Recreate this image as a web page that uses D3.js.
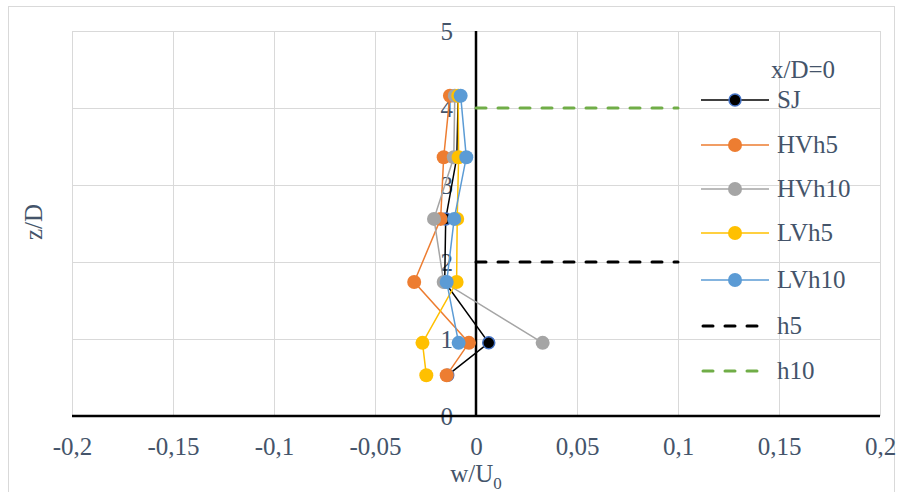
<!DOCTYPE html>
<html>
<head>
<meta charset="utf-8">
<script src="https://cdn.jsdelivr.net/npm/d3@7"></script>
<style>
  body { margin: 0; background: #fff; }
  text { font-family: "Liberation Serif", "Times New Roman", serif; fill: #44546A; }
  .grid line { stroke: #D9D9D9; stroke-width: 1; }
  .tick-label { font-size: 25px; }
</style>
</head>
<body>
<div id="wrapper"></div>
<script>
// values
const xTicks = [-0.2, -0.15, -0.1, -0.05, 0, 0.05, 0.1, 0.15, 0.2];
const yTicks = [0, 1, 2, 3, 4, 5];

const sjZ = [0.53, 0.95, 1.74, 2.56, 3.36, 4.16];
const sjW = [-0.014, 0.0063, -0.0155, -0.015, -0.0095, -0.0088];

const hvh5Z = [0.53, 0.95, 1.74, 2.56, 3.36, 4.16];
const hvh5W = [-0.0145, -0.0035, -0.0306, -0.0175, -0.016, -0.0129];

const hvh10Z = [0.95, 1.74, 2.56, 3.36, 4.16];
const hvh10W = [0.033, -0.016, -0.0208, -0.011, -0.0105];

const lvh5Z = [0.53, 0.95, 1.74, 2.56, 3.36, 4.16];
const lvh5W = [-0.0246, -0.0265, -0.0096, -0.0093, -0.0086, -0.0088];

const lvh10Z = [0.95, 1.74, 2.56, 3.36, 4.16];
const lvh10W = [-0.0086, -0.0145, -0.0108, -0.0048, -0.0076];

const h5Line = { w: [0, 0.1], z: [2, 2] };
const h10Line = { w: [0, 0.1], z: [4, 4] };

const seriesNames = ["SJ", "HVh5", "HVh10", "LVh5", "LVh10"];
const seriesColors = ["#000000", "#ED7D31", "#A5A5A5", "#FFC000", "#5B9BD5"];

function drawChart() {
  const series = [
    { z: sjZ, w: sjW },
    { z: hvh5Z, w: hvh5W },
    { z: hvh10Z, w: hvh10W },
    { z: lvh5Z, w: lvh5W },
    { z: lvh10Z, w: lvh10W },
  ].map((s, i) => ({
    name: seriesNames[i],
    color: seriesColors[i],
    points: s.z.map((z, j) => ({ z, w: s.w[j] })),
  }));

  const dimensions = {
    width: 902,
    height: 492,
    margin: { top: 31, right: 22, bottom: 76, left: 72 },
  };
  dimensions.boundedWidth = dimensions.width - dimensions.margin.left - dimensions.margin.right;
  dimensions.boundedHeight = dimensions.height - dimensions.margin.top - dimensions.margin.bottom;

  const wrapper = d3.select("#wrapper")
    .append("svg")
      .attr("width", dimensions.width)
      .attr("height", dimensions.height);

  // outer chart border
  wrapper.append("rect")
      .attr("x", 8.5)
      .attr("y", 6.5)
      .attr("width", 886)
      .attr("height", 490)
      .attr("fill", "none")
      .attr("stroke", "#D9D9D9");

  const bounds = wrapper.append("g")
      .attr("transform", `translate(${dimensions.margin.left}, ${dimensions.margin.top})`);

  const xScale = d3.scaleLinear()
    .domain([-0.2, 0.2])
    .range([0, dimensions.boundedWidth]);

  const yScale = d3.scaleLinear()
    .domain([0, 5])
    .range([dimensions.boundedHeight, 0]);

  // gridlines
  const grid = bounds.append("g").attr("class", "grid");
  grid.selectAll(".gx")
    .data(xTicks)
    .join("line")
      .attr("x1", d => Math.round(xScale(d)) + 0.5)
      .attr("x2", d => Math.round(xScale(d)) + 0.5)
      .attr("y1", 0)
      .attr("y2", dimensions.boundedHeight);
  grid.selectAll(".gy")
    .data(yTicks)
    .join("line")
      .attr("class", "gy")
      .attr("x1", 0)
      .attr("x2", dimensions.boundedWidth)
      .attr("y1", d => Math.round(yScale(d)) + 0.5)
      .attr("y2", d => Math.round(yScale(d)) + 0.5);

  // x tick labels
  const xAxis = bounds.append("g")
      .attr("transform", `translate(0, ${dimensions.boundedHeight})`)
    .call(d3.axisBottom(xScale)
      .tickValues(xTicks)
      .tickSize(0)
      .tickPadding(21)
      .tickFormat(d => String(d).replace(".", ",")));
  xAxis.select(".domain").remove();
  xAxis.selectAll("text")
      .attr("class", "tick-label")
      .attr("fill", "#44546A");

  // y tick labels sit next to the axis at x = 0
  const yAxis = bounds.append("g")
      .attr("transform", `translate(${xScale(0)}, 0)`)
    .call(d3.axisLeft(yScale)
      .tickValues(yTicks)
      .tickSize(0)
      .tickPadding(23)
      .tickFormat(d3.format("d")));
  yAxis.select(".domain").remove();
  yAxis.selectAll("text")
      .attr("class", "tick-label")
      .attr("fill", "#44546A");

  // axis lines
  bounds.append("line")
      .attr("x1", 0)
      .attr("x2", dimensions.boundedWidth)
      .attr("y1", yScale(0))
      .attr("y2", yScale(0))
      .attr("stroke", "#000")
      .attr("stroke-width", 2.5);
  bounds.append("line")
      .attr("x1", xScale(0))
      .attr("x2", xScale(0))
      .attr("y1", 0)
      .attr("y2", yScale(0))
      .attr("stroke", "#000")
      .attr("stroke-width", 2.5);

  // reference heights
  const dashLine = d3.line()
    .x(d => xScale(d[0]))
    .y(d => yScale(d[1]));
  [[h5Line, "#000000"], [h10Line, "#70AD47"]].forEach(([l, c]) => {
    bounds.append("path")
        .attr("d", dashLine(l.w.map((w, i) => [w, l.z[i]])))
        .attr("fill", "none")
        .attr("stroke", c)
        .attr("stroke-width", 3)
        .attr("stroke-linecap", "round")
        .attr("stroke-dasharray", "10,12");
  });

  // series
  const lineGenerator = d3.line()
    .x(d => xScale(d.w))
    .y(d => yScale(d.z));

  series.forEach(s => {
    const g = bounds.append("g");
    g.append("path")
        .attr("d", lineGenerator(s.points))
        .attr("fill", "none")
        .attr("stroke", s.color)
        .attr("stroke-width", 1.5);
    g.selectAll("circle")
      .data(s.points)
      .join("circle")
        .attr("cx", d => xScale(d.w))
        .attr("cy", d => yScale(d.z))
        .attr("r", s.name == "SJ" ? 6 : 7)
        .attr("fill", s.color)
        .attr("stroke", s.name == "SJ" ? "#4472C4" : "none")
        .attr("stroke-width", 1.5);
  });

  // axis titles
  const xTitle = wrapper.append("text")
      .attr("x", 476)
      .attr("y", 482)
      .attr("text-anchor", "middle")
      .style("font-size", "25px");
  xTitle.append("tspan").text("w/U");
  xTitle.append("tspan")
      .attr("dy", 7)
      .style("font-size", "17px")
      .text("0");

  wrapper.append("text")
      .attr("transform", "translate(42, 222) rotate(-90)")
      .attr("text-anchor", "middle")
      .style("font-size", "25px")
      .text("z/D");

  // legend
  const legend = wrapper.append("g")
      .attr("transform", "translate(701, 0)");
  legend.append("text")
      .attr("x", 102)
      .attr("y", 78)
      .attr("text-anchor", "middle")
      .style("font-size", "25px")
      .text("x/D=0");

  const legendRows = [100, 145, 189, 233, 280];
  series.forEach((s, i) => {
    const row = legend.append("g")
        .attr("transform", `translate(0, ${legendRows[i]})`);
    row.append("line")
        .attr("x1", 0).attr("x2", 68)
        .attr("stroke", s.color)
        .attr("stroke-width", 1.5);
    row.append("circle")
        .attr("cx", 34)
        .attr("r", s.name == "SJ" ? 6 : 7)
        .attr("fill", s.color)
        .attr("stroke", s.name == "SJ" ? "#4472C4" : "none")
        .attr("stroke-width", 1.5);
    row.append("text")
        .attr("x", 76)
        .attr("dy", "0.33em")
        .style("font-size", "25px")
        .text(s.name);
  });

  [["h5", "#000000", 326], ["h10", "#70AD47", 371]].forEach(([name, c, y]) => {
    const row = legend.append("g")
        .attr("transform", `translate(0, ${y})`);
    row.append("line")
        .attr("x1", 2).attr("x2", 68)
        .attr("stroke", c)
        .attr("stroke-width", 3)
        .attr("stroke-linecap", "round")
        .attr("stroke-dasharray", "10,12");
    row.append("text")
        .attr("x", 76)
        .attr("dy", "0.33em")
        .style("font-size", "25px")
        .text(name);
  });
}
drawChart();
</script>
</body>
</html>
